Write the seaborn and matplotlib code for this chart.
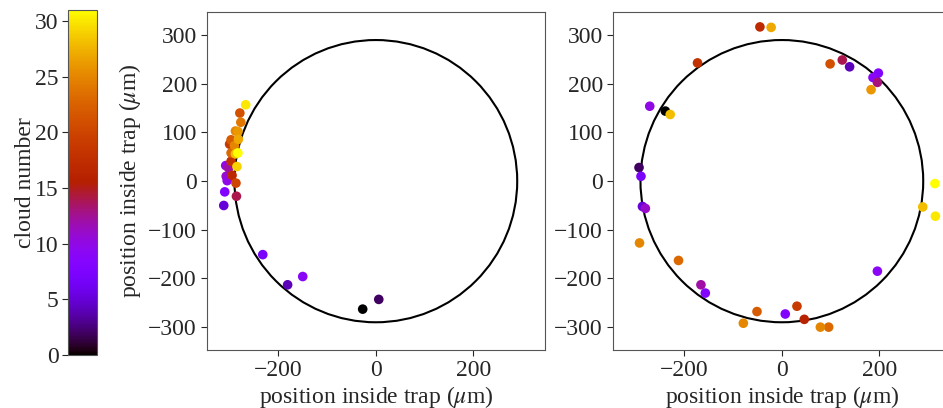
import numpy as np
import pandas as pd
import matplotlib
matplotlib.use("Agg")
import matplotlib.pyplot as plt
import seaborn as sns
from matplotlib.patches import Circle
from matplotlib.cm import ScalarMappable
from matplotlib.colors import Normalize

# ---- data ----
left_x = [-27, 6, -181, -312, -232, -310, -150, -307, -305, -308, -302, -286,
          -295, -297, -300, -287, -279, -297, -297, -277, -288, -290, -283,
          -282, -288, -285, -267, -283]
left_y = [-263, -243, -213, -50, -151, -22, -196, 10, 1, 32, 27, -31,
          12, 41, 76, -4, 140, 85, 58, 121, 103, 73, 102,
          86, 56, 30, 157, 58]
left_c = [0, 2, 4, 5, 7, 8, 9, 11, 10, 10, 12, 14,
          17, 18, 19, 20, 21, 22, 23, 24, 25, 25, 26,
          27, 28, 29, 30, 31]

right_x = [-239, -293, 139, -286, -289, 198, 7, -157, 196, 187, -271, -280,
           -166, 196, 124, 46, -45, -173, 31, 99, -212, -51, 96, -292,
           -79, 79, 183, -22, -229, 289, 314, 315]
right_y = [144, 28, 235, -52, 10, 222, -273, -230, -185, 213, 154, -56,
           -213, 203, 249, -284, 317, 243, -257, 241, -163, -268, -300, -127,
           -292, -300, 188, 316, 137, -53, -5, -72]
right_c = [0, 2, 4, 5, 7, 8, 8, 8, 9, 9, 10, 11,
           12, 13, 14, 16, 17, 18, 19, 21, 23, 22, 23, 25,
           25, 25, 26, 27, 28, 28, 31, 30]

trap_radius = 290
cloud_min, cloud_max = 0, 31
axis_lim = 347

# ---- style ----
sns.set_style("ticks")
plt.rcParams["font.family"] = ["Liberation Serif", "DejaVu Serif"]
plt.rcParams["mathtext.fontset"] = "stix"
plt.rcParams["axes.unicode_minus"] = True

W, H = 943, 408
fig = plt.figure(figsize=(W / 100, H / 100), dpi=100)

cax = fig.add_axes([68.3 / W, (H - 355) / H, 29 / W, 345.3 / H])
ax1 = fig.add_axes([206.7 / W, (H - 350) / H, 338.3 / W, 337.7 / H])
ax2 = fig.add_axes([612.7 / W, (H - 350) / H, 338.3 / W, 337.7 / H])

cmap = "gnuplot"
norm = Normalize(vmin=cloud_min, vmax=cloud_max)

df_l = pd.DataFrame({"x": left_x, "y": left_y, "cloud": left_c})
df_r = pd.DataFrame({"x": right_x, "y": right_y, "cloud": right_c})

fs = 17
for ax, df in [(ax1, df_l), (ax2, df_r)]:
    ax.add_patch(Circle((0, 0), trap_radius, fill=False, color="black", lw=1.5, zorder=1))
    sns.scatterplot(data=df, x="x", y="y", hue="cloud", palette=cmap,
                    hue_norm=norm, s=48, linewidth=0, legend=False, ax=ax, zorder=3)
    ax.set_xlim(-axis_lim, axis_lim)
    ax.set_ylim(-axis_lim, axis_lim)
    ax.set_xticks([-200, 0, 200])
    ax.set_yticks([-300, -200, -100, 0, 100, 200, 300])
    ax.set_xlabel(r"position inside trap ($\mu$m)", fontsize=fs, labelpad=2)
    ax.set_ylabel("")
    ax.tick_params(labelsize=fs, length=4, pad=3)
    for sp in ax.spines.values():
        sp.set_color("#555555")

ax1.set_ylabel(r"position inside trap ($\mu$m)", fontsize=fs, labelpad=4)

cb = fig.colorbar(ScalarMappable(norm=norm, cmap=cmap), cax=cax)
cax.yaxis.set_ticks_position("left")
cax.yaxis.set_label_position("left")
cb.set_ticks([0, 5, 10, 15, 20, 25, 30])
cb.set_label("cloud number", fontsize=fs, labelpad=-1)
cax.tick_params(labelsize=fs, length=4, pad=3)
cb.outline.set_edgecolor("#555555")

fig.savefig("out.png", dpi=100)
